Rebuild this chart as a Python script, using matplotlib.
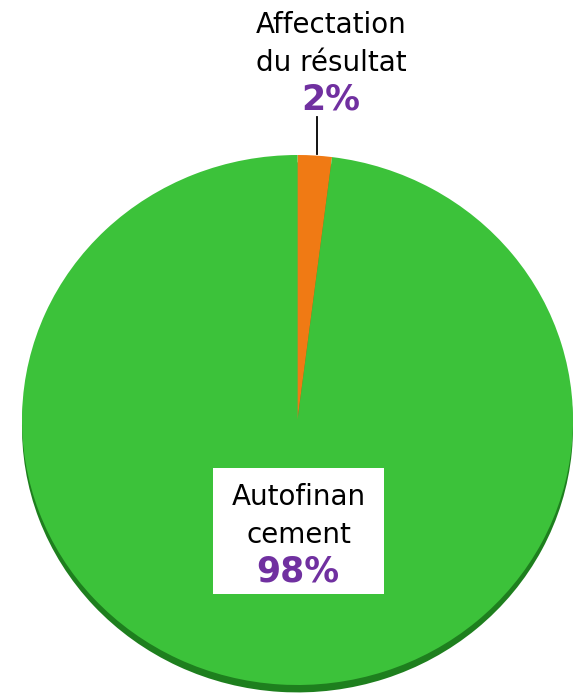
import matplotlib.pyplot as plt
from matplotlib.patches import Rectangle

labels = ['Affectation\ndu résultat', 'Autofinan\ncement']
values = [2, 98]
colors = ['#F07A14', '#3CC23A']
shadow_colors = ['#B85A0C', '#1E7F1E']
PURPLE = '#7030A0'

W, H = 578, 694


def fx(x):
    return x / W


def fy(y_top):
    # convert a top-origin pixel row to figure fraction
    return 1 - y_top / H


fig = plt.figure(figsize=(W / 100, H / 100), dpi=100)
plt.rcParams['font.family'] = ['DejaVu Sans']

# pie top face spans x 22..573, y 155..685
ax = fig.add_axes([fx(22), fy(685), fx(551), 530 / H])
ax.axis('off')

# darker copy under the pie for the 3d rim
sh, _ = ax.pie(values, colors=shadow_colors, startangle=90, counterclock=False,
               center=(0, -0.028), radius=1.0, wedgeprops=dict(linewidth=0))
for w in sh:
    w.set_clip_on(False)
wedges, _ = ax.pie(values, colors=colors, startangle=90, counterclock=False,
                   radius=1.0, wedgeprops=dict(linewidth=0))
for w in wedges:
    w.set_clip_on(False)
ax.set_aspect('auto')
ax.set_xlim(-1, 1)
ax.set_ylim(-1, 1)

# top label with leader line
top_lines = labels[0].split('\n')
fig.text(fx(331), fy(33), top_lines[0], ha='center', va='baseline', fontsize=20, color='black')
fig.text(fx(331), fy(71), top_lines[1], ha='center', va='baseline', fontsize=20, color='black')
fig.text(fx(331), fy(110), f'{values[0]}%', ha='center', va='baseline', fontsize=25,
         fontweight='bold', color=PURPLE)
fig.add_artist(plt.Line2D([fx(317), fx(317)], [fy(117), fy(154)], color='black', linewidth=1.3))

# bottom label in white box
fig.add_artist(Rectangle((fx(213), fy(594)), fx(171), 126 / H, facecolor='white',
                         edgecolor='none', transform=fig.transFigure))
bot_lines = labels[1].split('\n')
fig.text(fx(299), fy(505), bot_lines[0], ha='center', va='baseline', fontsize=20, color='black')
fig.text(fx(299), fy(543), bot_lines[1], ha='center', va='baseline', fontsize=20, color='black')
fig.text(fx(298), fy(582), f'{values[1]}%', ha='center', va='baseline', fontsize=25,
         fontweight='bold', color=PURPLE)

fig.savefig('out.png', dpi=100)
